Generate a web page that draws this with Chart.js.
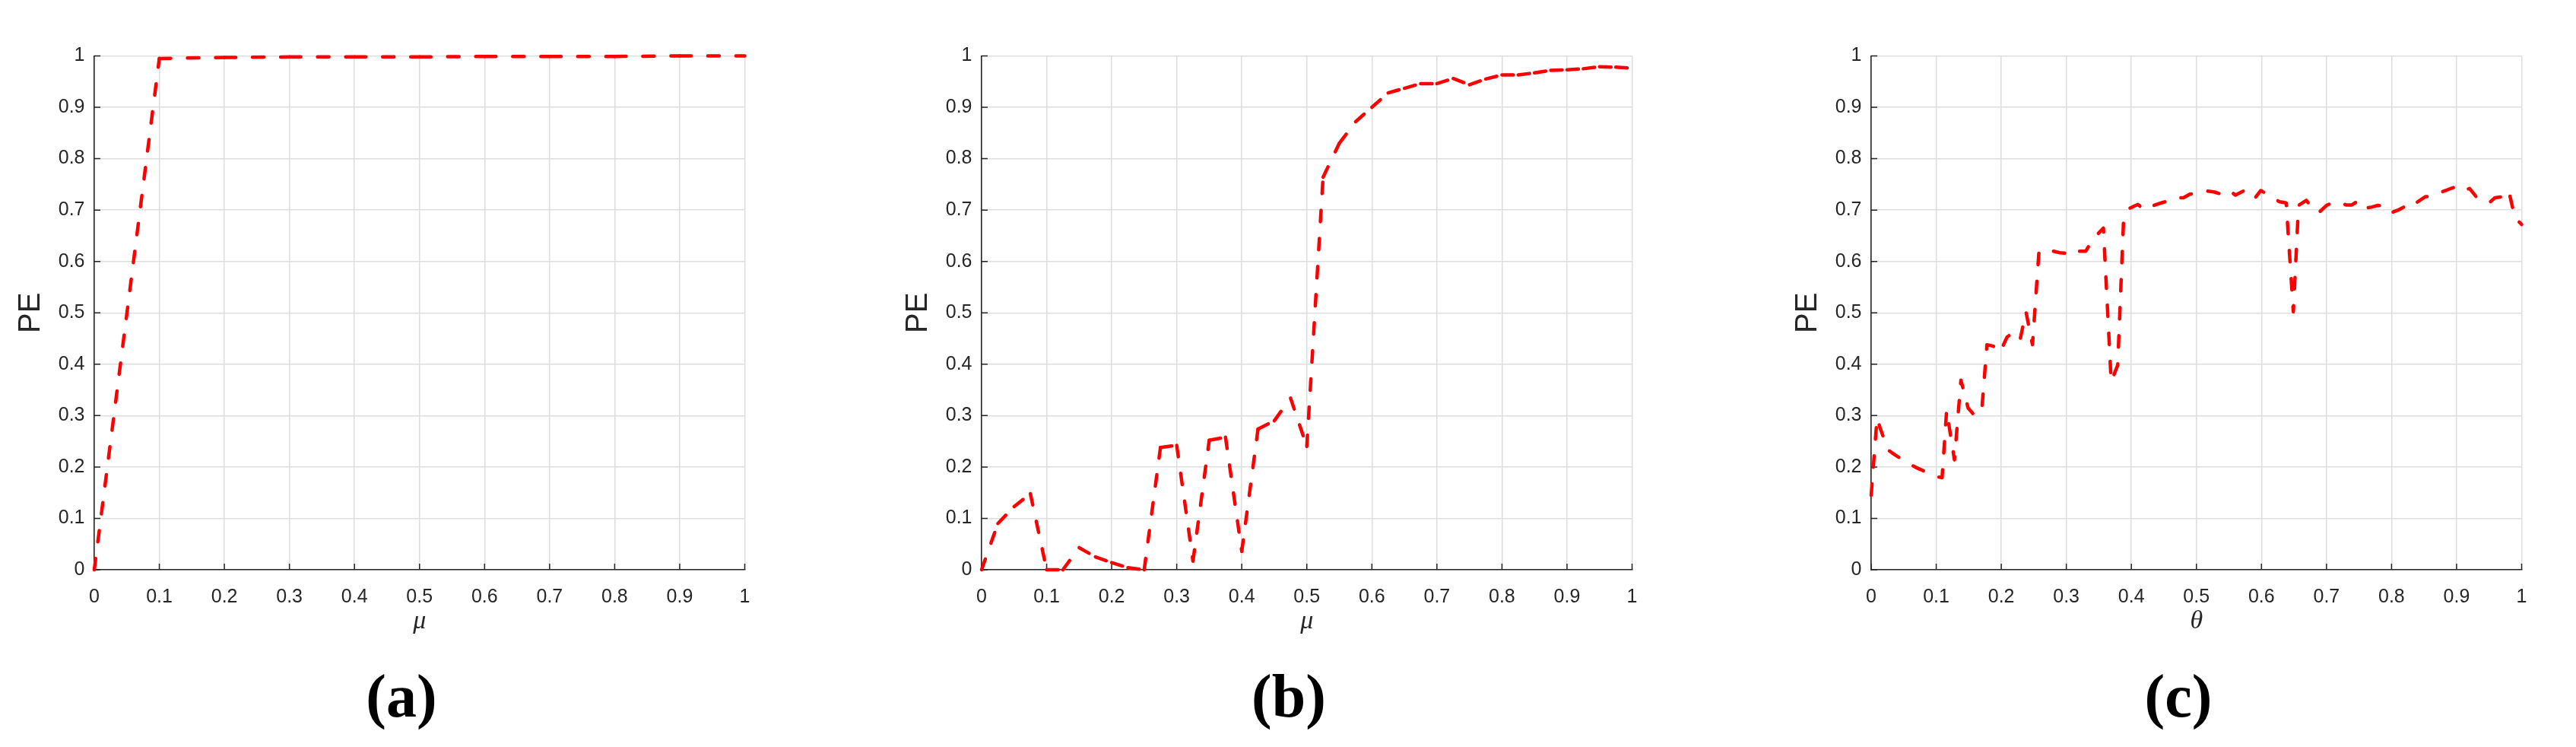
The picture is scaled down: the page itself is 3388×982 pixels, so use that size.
<!DOCTYPE html>
<html><head><meta charset="utf-8">
<script src="https://cdn.jsdelivr.net/npm/chart.js@4.4.1/dist/chart.umd.min.js"></script>
<style>
html,body{margin:0;padding:0;background:#fff;width:3388px;height:982px;overflow:hidden;position:relative}
.panel{position:absolute;top:0;width:1010px;height:870px}
.lab{position:absolute;top:870px;width:200px;text-align:center;font-family:"Liberation Serif","Times New Roman",serif;font-weight:bold;font-size:80px;line-height:90px;color:#000}
</style></head><body>
<div class="panel" style="left:0px"><canvas id="ca" width="1010" height="870"></canvas></div>
<div class="panel" style="left:1167px"><canvas id="cb" width="1010" height="870"></canvas></div>
<div class="panel" style="left:2337px"><canvas id="cc" width="1010" height="870"></canvas></div>
<div class="lab" style="left:428px">(a)</div>
<div class="lab" style="left:1595px">(b)</div>
<div class="lab" style="left:2765px">(c)</div>
<script>
// ---- data ----
const tickLabels = ['0','0.1','0.2','0.3','0.4','0.5','0.6','0.7','0.8','0.9','1'];

const muA = [0, 0.1, 0.2, 0.3, 0.4, 0.5, 0.6, 0.7, 0.8, 0.9, 1.0];
const peA = [0, 0.995, 0.997, 0.998, 0.998, 0.998, 0.999, 0.999, 0.999, 1.0, 1.0];

const muB = [0, 0.025, 0.05, 0.075, 0.1, 0.125, 0.15, 0.175, 0.2, 0.225, 0.25, 0.275, 0.3, 0.325, 0.35, 0.375, 0.4,
  0.425, 0.45, 0.475, 0.5, 0.525, 0.55, 0.575, 0.6, 0.625, 0.65, 0.675, 0.7, 0.725, 0.75, 0.775, 0.8, 0.825,
  0.85, 0.875, 0.9, 0.925, 0.95, 0.975, 1.0];
const peB = [0, 0.09, 0.123, 0.148, 0.0, 0.0, 0.043, 0.025, 0.014, 0.004, 0.0, 0.238, 0.242, 0.017, 0.252, 0.258, 0.036,
  0.274, 0.29, 0.334, 0.240, 0.764, 0.83, 0.872, 0.90, 0.928, 0.937, 0.946, 0.946, 0.956, 0.944, 0.955, 0.963, 0.963,
  0.967, 0.972, 0.973, 0.975, 0.979, 0.978, 0.976];

const thetaC = [0, 0.009, 0.014, 0.026, 0.036, 0.057, 0.069, 0.085, 0.098, 0.109, 0.116, 0.128, 0.138, 0.149, 0.159,
  0.17, 0.178, 0.188, 0.198, 0.209, 0.219, 0.229, 0.238, 0.248, 0.258, 0.27, 0.28, 0.29, 0.299, 0.31, 0.32, 0.33,
  0.34, 0.357, 0.369, 0.379, 0.388, 0.398, 0.41, 0.42, 0.43, 0.439, 0.449, 0.459, 0.468, 0.48, 0.49, 0.5, 0.517,
  0.528, 0.538, 0.55, 0.56, 0.569, 0.579, 0.591, 0.599, 0.61, 0.62, 0.628, 0.638, 0.649, 0.657, 0.669, 0.678,
  0.688, 0.7, 0.71, 0.72, 0.73, 0.739, 0.75, 0.761, 0.77, 0.778, 0.79, 0.8, 0.81, 0.819, 0.83, 0.84, 0.852, 0.86,
  0.87, 0.883, 0.891, 0.901, 0.91, 0.92, 0.93, 0.94, 0.95, 0.959, 0.971, 0.98, 0.99, 1.0];
const peC = [0.145, 0.295, 0.275, 0.233, 0.224, 0.207, 0.199, 0.19, 0.182, 0.179, 0.31, 0.214, 0.369, 0.315, 0.30,
  0.31, 0.438, 0.435, 0.423, 0.453, 0.462, 0.448, 0.502, 0.438, 0.62, 0.618, 0.62, 0.617, 0.616, 0.625, 0.62, 0.62,
  0.642, 0.665, 0.366, 0.398, 0.68, 0.704, 0.711, 0.70, 0.707, 0.711, 0.715, 0.719, 0.724, 0.724, 0.731, 0.733, 0.737,
  0.735, 0.731, 0.739, 0.729, 0.735, 0.741, 0.725, 0.738, 0.73, 0.722, 0.716, 0.714, 0.502, 0.709, 0.719, 0.704,
  0.695, 0.709, 0.715, 0.715, 0.71, 0.71, 0.719, 0.704, 0.706, 0.709, 0.708, 0.695, 0.70, 0.706, 0.703, 0.716, 0.726, 0.726,
  0.732, 0.738, 0.742, 0.746, 0.738, 0.742, 0.726, 0.721, 0.714, 0.724, 0.726, 0.738, 0.684, 0.672];

// ---- styling / chart ----
const TXT = '#262626';
const innerTicks = {
  id: 'innerTicks',
  beforeDatasetsDraw(chart) {
    const {ctx, chartArea: a, scales: {x, y}} = chart;
    ctx.save();
    ctx.strokeStyle = TXT; ctx.lineWidth = 1.5;
    ctx.beginPath();
    x.ticks.forEach(t => { const px = x.getPixelForValue(t.value); ctx.moveTo(px, a.bottom); ctx.lineTo(px, a.bottom - 8); });
    y.ticks.forEach(t => { const py = y.getPixelForValue(t.value); ctx.moveTo(a.left, py); ctx.lineTo(a.left + 8, py); });
    ctx.stroke();
    ctx.restore();
  }
};

function makeChart(id, xs, ys, xTitle, restartDash) {
  const tickFont = {family: '"Liberation Sans", Arial, Helvetica, sans-serif', size: 25};
  const ds = {
    data: xs.map((v, i) => ({x: v, y: ys[i]})),
    borderColor: '#ff0000',
    borderWidth: 4.5,
    borderDash: [15, 22],
    borderCapStyle: 'round',
    borderJoinStyle: 'round',
    pointRadius: 0,
    tension: 0,
    fill: false,
    clip: false
  };
  if (restartDash) ds.segment = { borderDashOffset: c => (c.p0DataIndex % 2) ? 0.001 : 0 };
  new Chart(document.getElementById(id), {
    type: 'line',
    data: { datasets: [ds] },
    options: {
      responsive: false,
      devicePixelRatio: 1,
      animation: false,
      events: [],
      layout: {padding: {top: 73.5, right: 30.5, bottom: 0, left: 0}},
      plugins: {legend: {display: false}, tooltip: {enabled: false}},
      scales: {
        x: {
          type: 'linear', min: 0, max: 1,
          afterFit: s => { s.height = 121; },
          ticks: {stepSize: 0.1, autoSkip: false, maxRotation: 0, padding: 21, color: TXT, font: tickFont,
                  callback: (v, i) => tickLabels[i]},
          grid: {color: '#dedede', lineWidth: 1.5, drawTicks: false},
          border: {color: TXT, width: 1.6},
          title: {display: true, text: xTitle, color: TXT,
                  font: {family: '"Liberation Serif", "Times New Roman", serif', style: 'italic', size: 34},
                  padding: {top: 0, bottom: 33}}
        },
        y: {
          type: 'linear', min: 0, max: 1,
          afterFit: s => { s.width = 124; },
          ticks: {stepSize: 0.1, autoSkip: false, padding: 12.5, color: TXT, font: tickFont,
                  callback: (v, i) => tickLabels[i]},
          grid: {color: '#dedede', lineWidth: 1.5, drawTicks: false},
          border: {color: TXT, width: 1.6},
          title: {display: true, text: 'PE', color: TXT,
                  font: {family: '"Liberation Sans", Arial, sans-serif', size: 40},
                  padding: {top: 17, bottom: 0}}
        }
      }
    },
    plugins: [innerTicks]
  });
}

makeChart('ca', muA, peA, 'μ', true);
makeChart('cb', muB, peB, 'μ', true);
makeChart('cc', thetaC, peC, 'θ', false);
</script>
</body></html>
